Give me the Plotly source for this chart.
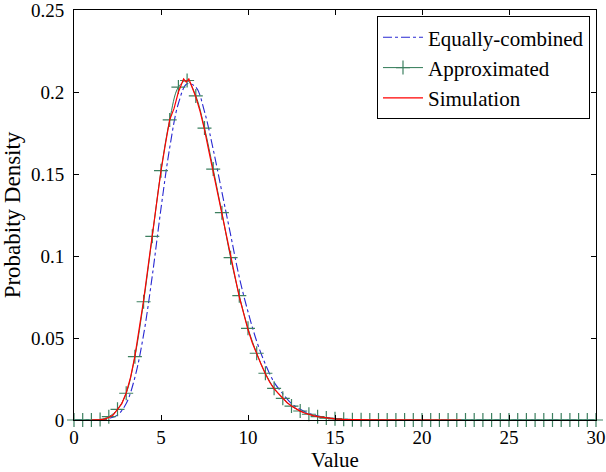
import plotly.graph_objects as go

# Equally-combined (blue dash-dot), sampled every 0.5
eq_x = [0, 0.5, 1, 1.5, 2, 2.5, 3, 3.5, 4, 4.5, 5, 5.5, 6, 6.5, 7, 7.5, 8, 8.5, 9, 9.5,
        10, 10.5, 11, 11.5, 12, 12.5, 13, 13.5, 14, 14.5, 15, 15.5, 16, 16.5, 17, 30]
eq_y = [0, 0, 0, 0.0002, 0.001, 0.003, 0.010, 0.026, 0.052, 0.088, 0.129, 0.166, 0.193, 0.205,
        0.203, 0.188, 0.165, 0.139, 0.113, 0.087, 0.066, 0.048, 0.034, 0.023, 0.016, 0.010,
        0.0065, 0.004, 0.0025, 0.0015, 0.0009, 0.0005, 0.0003, 0.0001, 0, 0]

# Approximated (green with + markers), sampled every 0.5 from 0 to 30
ap_x = [i * 0.5 for i in range(61)]
ap_y = [0, 0, 0, 0.0003, 0.002, 0.0065, 0.0163, 0.0386, 0.0721, 0.112, 0.152, 0.183, 0.203,
        0.207, 0.1976, 0.178, 0.153, 0.1264, 0.099, 0.0758, 0.0559, 0.0407, 0.0285, 0.0193,
        0.0132, 0.0085, 0.0055, 0.0035, 0.002, 0.0012, 0.0007, 0.0004, 0.0002, 0.0001,
        0, 0, 0, 0, 0, 0, 0, 0, 0, 0, 0, 0, 0, 0, 0, 0, 0, 0, 0, 0, 0, 0, 0, 0, 0, 0, 0]

# Simulation (red)
sim_x = [1.0, 1.25, 1.5, 1.75, 2.0, 2.25, 2.5, 2.75, 3.0, 3.25, 3.5, 3.75, 4.0, 4.25, 4.5,
         4.75, 5.0, 5.25, 5.5, 5.75, 6.0, 6.15, 6.3, 6.45, 6.6, 6.75, 7.0, 7.25, 7.5, 7.75,
         8.0, 8.25, 8.5, 8.75, 9.0, 9.25, 9.5, 9.75, 10.0, 10.25, 10.5, 10.75, 11.0, 11.25,
         11.5, 11.75, 12.0, 12.25, 12.5, 12.75, 13.0, 13.25, 13.5, 13.75, 14.0, 14.5, 15.0,
         15.5, 16.0, 16.5, 17.0, 22.25]
sim_y = [0, 0, 0.0002, 0.0005, 0.0015, 0.003, 0.0062, 0.010, 0.0165, 0.026, 0.039, 0.055,
         0.073, 0.093, 0.113, 0.133, 0.152, 0.168, 0.183, 0.190, 0.200, 0.204, 0.208, 0.206,
         0.208, 0.204, 0.197, 0.188, 0.177, 0.164, 0.151, 0.138, 0.125, 0.112, 0.099, 0.087,
         0.075, 0.065, 0.055, 0.047, 0.040, 0.034, 0.028, 0.023, 0.019, 0.016, 0.013, 0.0105,
         0.0085, 0.0068, 0.0054, 0.0043, 0.0034, 0.0027, 0.0021, 0.0012, 0.0007, 0.0004,
         0.0002, 0.0001, 0.00005, 0]

x_ticks = [0, 5, 10, 15, 20, 25, 30]
y_ticks = [0, 0.05, 0.1, 0.15, 0.2, 0.25]
y_tick_labels = ["0", "0.05", "0.1", "0.15", "0.2", "0.25"]

FONT = "Liberation Serif, Times New Roman, serif"

fig = go.Figure()
fig.add_trace(go.Scatter(x=eq_x, y=eq_y, mode="lines", name="Equally-combined",
                         line=dict(color="rgb(40,40,210)", width=1.1, dash="dashdot", shape="spline"),
                         cliponaxis=False))
fig.add_trace(go.Scatter(x=ap_x, y=ap_y, mode="lines+markers", name="Approximated",
                         line=dict(color="#2f7a55", width=1.0, shape="spline"),
                         marker=dict(symbol="cross-thin", size=10,
                                     line=dict(color="#3d8060", width=1.2)),
                         cliponaxis=False))
fig.add_trace(go.Scatter(x=sim_x, y=sim_y, mode="lines", name="Simulation",
                         line=dict(color="#ff0000", width=1.2),
                         cliponaxis=False))

axis_common = dict(showline=True, linecolor="black", linewidth=1, mirror="ticks",
                   ticks="inside", ticklen=5, tickcolor="black", showgrid=False,
                   zeroline=False, automargin=False, ticklabeloverflow="allow",
                   tickfont=dict(family=FONT, size=19, color="black"))

fig.update_xaxes(range=[0, 30], tickvals=x_ticks, title=dict(text="Value", standoff=0,
                 font=dict(family=FONT, size=21, color="black")), **axis_common)
fig.update_yaxes(range=[0, 0.25], tickvals=y_ticks, ticktext=y_tick_labels,
                 ticklabelstandoff=5,
                 title=dict(text="Probabity Density", standoff=6,
                            font=dict(family=FONT, size=23, color="black")), **axis_common)

fig.update_layout(
    width=606, height=472,
    margin=dict(l=74, r=10, t=10, b=52),
    plot_bgcolor="white", paper_bgcolor="white",
    font=dict(family=FONT, size=17, color="black"),
    showlegend=True,
    legend=dict(x=0.9885, y=0.985, xanchor="right", yanchor="top",
                bgcolor="white", bordercolor="black", borderwidth=1,
                font=dict(family=FONT, size=21, color="black"),
                tracegroupgap=0, itemwidth=40),
)

fig.write_html("out.html", config={"displayModeBar": False},
               post_script="document.body.style.margin='0';document.body.style.overflow='hidden';")
